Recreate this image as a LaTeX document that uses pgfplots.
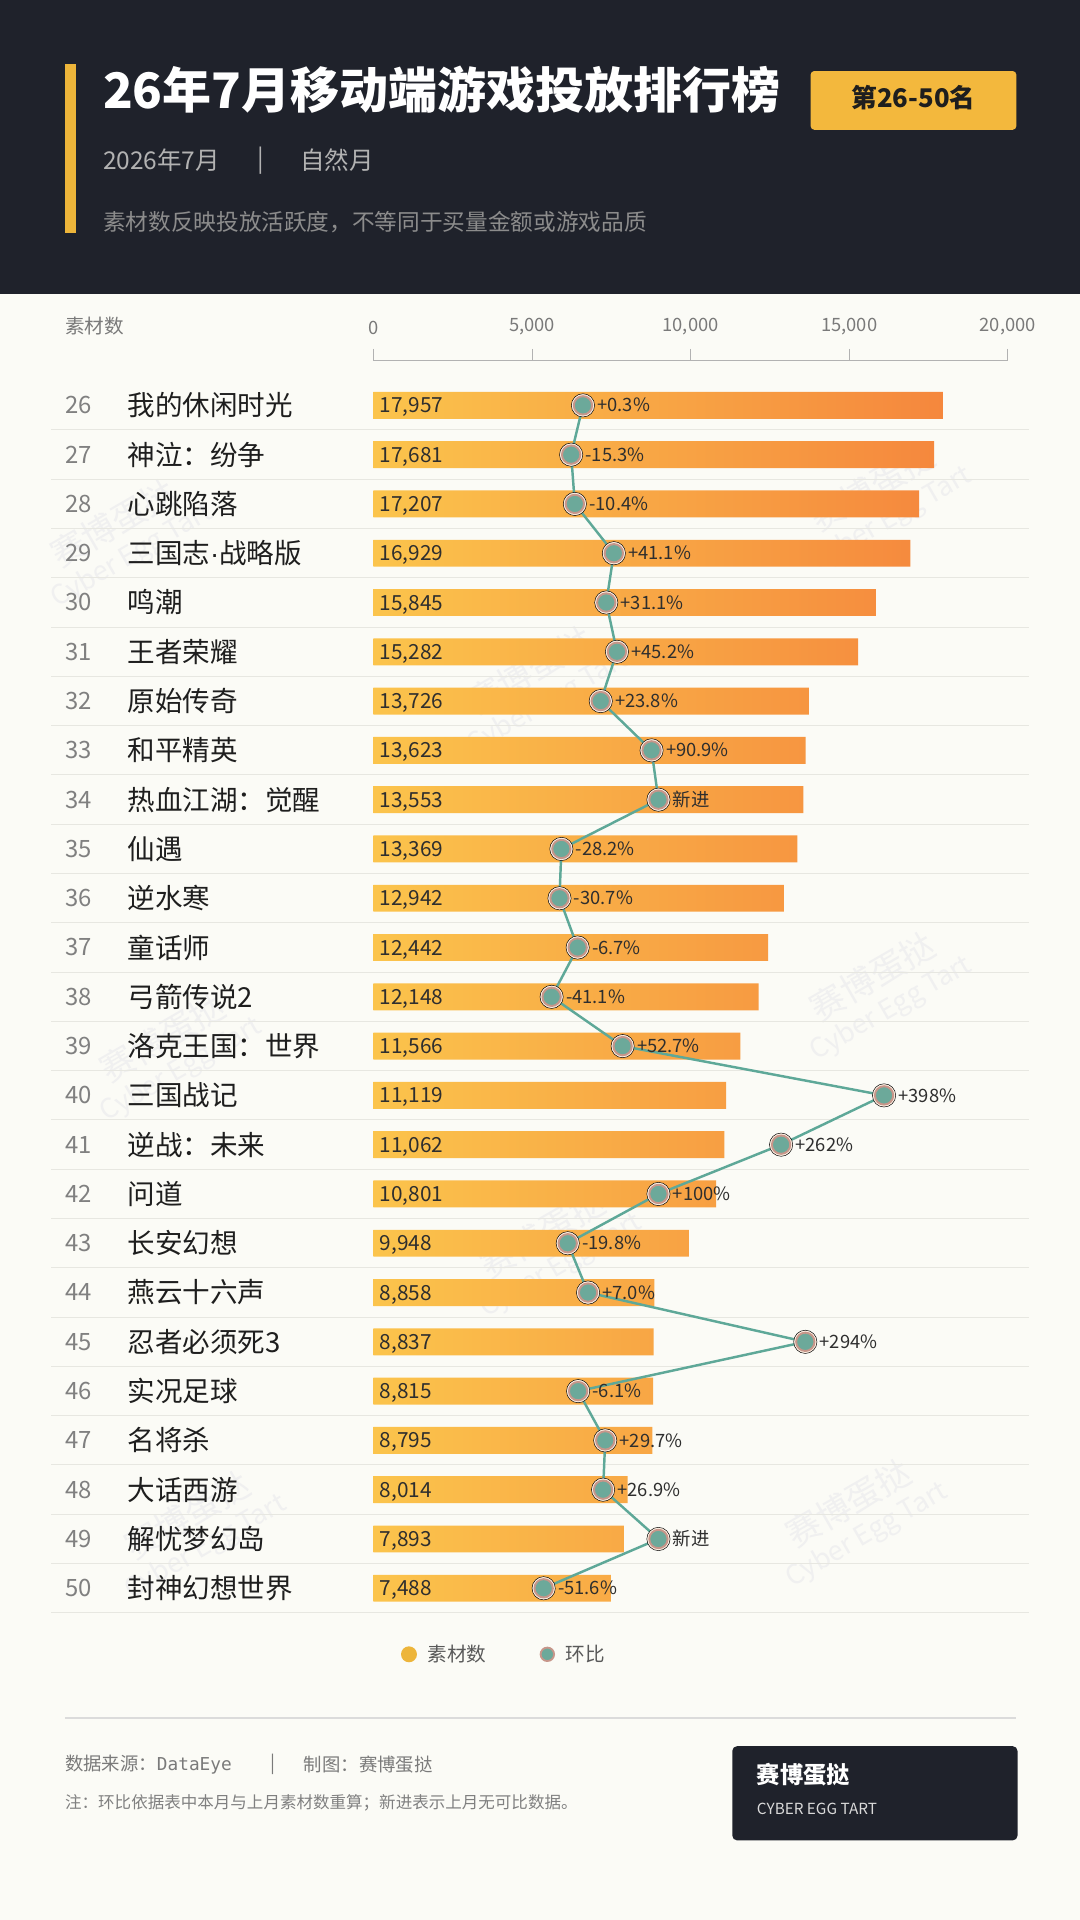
\documentclass[border=0pt]{standalone}
\usepackage{pgfplots}
\pgfplotsset{compat=1.18}
\usepackage{pgfplotstable}
\usepackage{fontspec}
\setmainfont{Noto Sans CJK SC}
\newfontfamily\monofont{DejaVu Sans Mono}
\newfontfamily\latin{Liberation Sans}

\definecolor{hdr}{HTML}{1F222B}
\definecolor{acc}{HTML}{EDB53A}
\definecolor{badge}{HTML}{F3B83D}
\definecolor{pagebg}{HTML}{FBFBF6}
\definecolor{barY}{HTML}{FBC44C}
\definecolor{barO}{HTML}{F5873D}
\definecolor{lineT}{HTML}{5EA898}
\definecolor{mkT}{HTML}{6CA99A}
\definecolor{mkR}{HTML}{C7968A}
\definecolor{sepc}{HTML}{E7E7E1}
\definecolor{txt}{HTML}{1E1E1E}
\definecolor{gry}{HTML}{7A7A7A}
\definecolor{lab}{HTML}{2E2E2E}

\newcommand{\fs}[1]{\fontsize{#1}{#1}\selectfont}

\pgfplotstableread{
idx val lab
0 17957 17,957
1 17681 17,681
2 17207 17,207
3 16929 16,929
4 15845 15,845
5 15282 15,282
6 13726 13,726
7 13623 13,623
8 13553 13,553
9 13369 13,369
10 12942 12,942
11 12442 12,442
12 12148 12,148
13 11566 11,566
14 11119 11,119
15 11062 11,062
16 10801 10,801
17 9948 9,948
18 8858 8,858
19 8837 8,837
20 8815 8,815
21 8795 8,795
22 8014 8,014
23 7893 7,893
24 7488 7,488
}\bars

\begin{document}
\begin{tikzpicture}[x=1pt,y=1pt]
% background
\fill[pagebg] (0,0) rectangle (882,-1568);
\path[use as bounding box] (0,0) rectangle (882,-1568);
% header
\fill[hdr] (0,0) rectangle (882,-240);
\fill[acc] (53,-52) rectangle (62,-190);
\node[anchor=west, text=white, font=\fs{40}\bfseries, inner sep=0pt] at (84,-73) {26年7月移动端游戏投放排行榜};
\fill[badge, rounded corners=3pt] (662,-58) rectangle (830,-106);
\node[text=txt, font=\fs{21}\bfseries] at (746,-80) {第26-50名};
\node[anchor=west, text=black!30, font=\fs{20}, inner sep=0pt] at (84,-131) {2026年7月};
\node[anchor=west, text=black!30, font=\fs{20}, inner sep=0pt] at (210,-131) {|};
\node[anchor=west, text=black!30, font=\fs{20}, inner sep=0pt] at (245,-131) {自然月};
\node[anchor=west, text=black!45, font=\fs{18.5}, inner sep=0pt] at (84,-181) {素材数反映投放活跃度，不等同于买量金额或游戏品质};

% watermarks
\foreach \wx/\wy in {100/-440, 440/-560, 720/-410, 140/-860, 720/-810, 450/-1020, 160/-1250, 700/-1240}{
  \node[rotate=30, text=black!6, align=center, font=\fs{28}] at (\wx,\wy) {赛博蛋挞\\[-2pt]{\fs{22}Cyber Egg Tart}};
}

% axis header label
\node[anchor=west, text=gry, font=\fs{16}, inner sep=0pt] at (53,-266) {素材数};

% row separators
\foreach \i in {0,...,24}{
  \draw[sepc, line width=0.9pt] (42,{-(351.1+40.25*\i)}) -- (840,{-(351.1+40.25*\i)});
}
% rank numbers and names
\foreach \n [count=\i from 0] in {我的休闲时光,神泣：纷争,心跳陷落,三国志{\latin ·}战略版,鸣潮,王者荣耀,原始传奇,和平精英,热血江湖：觉醒,仙遇,逆水寒,童话师,弓箭传说2,洛克王国：世界,三国战记,逆战：未来,问道,长安幻想,燕云十六声,忍者必须死3,实况足球,名将杀,大话西游,解忧梦幻岛,封神幻想世界}{
  \pgfmathtruncatemacro{\rk}{26+\i}
  \node[anchor=west, text=black!50, font=\fs{19.5}, inner sep=0pt] at (53,{-(331+40.25*\i)}) {\rk};
  \node[anchor=west, text=txt, font=\fs{22.5}, inner sep=0pt] at (104,{-(331+40.25*\i)}) {\n};
}

% bars axis
\begin{axis}[
  at={(305pt,-294pt)}, anchor=north west,
  scale only axis, width=518pt, height=1023.2pt,
  xmin=0, xmax=20000, ymin=-0.92, ymax=24.5, y dir=reverse,
  axis x line*=top, axis y line=none,
  xtick={0,5000,10000,15000,20000},
  scaled x ticks=false,
  tick align=outside, major tick length=9pt,
  x axis line style={color=black!30, line width=0.8pt},
  xtick style={color=black!30, line width=0.8pt},
  xticklabel style={text=gry, font=\fs{15}, yshift=8pt},
  /pgf/number format/.cd, 1000 sep={,}, assume math mode=true, /pgfplots/.cd,
  clip=false,
]
\addplot[xbar, bar width=22pt, bar shift=0pt, draw=none, left color=barY, right color=barO] table[x=val, y=idx]{\bars};
\addplot[draw=none, mark=none, point meta=explicit symbolic,
  nodes near coords={\pgfplotspointmeta},
  every node near coord/.append style={anchor=base west, xshift=3pt, yshift=-6.2pt, inner sep=2pt, text=lab, font=\fs{17}}]
  table[x expr=0, y=idx, meta=lab]{\bars};
\end{axis}

% change (ring-on-ring) line axis
\begin{axis}[
  at={(305pt,-294pt)}, anchor=north west,
  scale only axis, width=518pt, height=1023.2pt,
  xmin=-276.4, xmax=561.4, ymin=-0.92, ymax=24.5, y dir=reverse,
  hide axis, clip=false,
]
\addplot[only marks, mark=*, mark size=9.5pt, mark options={fill=white!90!orange, draw=none}] coordinates {
(0.3,0) (-15.3,1) (-10.4,2) (41.1,3) (31.1,4) (45.2,5) (23.8,6) (90.9,7) (100,8) (-28.2,9) (-30.7,10) (-6.7,11) (-41.1,12) (52.7,13) (398,14) (262,15) (100,16) (-19.8,17) (7.0,18) (294,19) (-6.1,20) (29.7,21) (26.9,22) (100,23) (-51.6,24)};
\addplot[lineT, line width=2pt, mark=*, mark size=7.5pt,
  mark options={fill=mkT, draw=mkR, line width=1.6pt},
  point meta=explicit symbolic,
  nodes near coords={\pgfplotspointmeta},
  every node near coord/.append style={anchor=base west, xshift=10pt, yshift=-5.4pt, text=lab, font=\fs{15}, inner sep=1pt}]
coordinates {
(0.3,0) [+0.3\%]
(-15.3,1) [-15.3\%]
(-10.4,2) [-10.4\%]
(41.1,3) [+41.1\%]
(31.1,4) [+31.1\%]
(45.2,5) [+45.2\%]
(23.8,6) [+23.8\%]
(90.9,7) [+90.9\%]
(100,8) [新进]
(-28.2,9) [-28.2\%]
(-30.7,10) [-30.7\%]
(-6.7,11) [-6.7\%]
(-41.1,12) [-41.1\%]
(52.7,13) [+52.7\%]
(398,14) [+398\%]
(262,15) [+262\%]
(100,16) [+100\%]
(-19.8,17) [-19.8\%]
(7.0,18) [+7.0\%]
(294,19) [+294\%]
(-6.1,20) [-6.1\%]
(29.7,21) [+29.7\%]
(26.9,22) [+26.9\%]
(100,23) [新进]
(-51.6,24) [-51.6\%]
};
\end{axis}

% legend
\fill[color=acc] (334,-1351) circle (6.5);
\node[anchor=west, text=black!65, font=\fs{16}, inner sep=0pt] at (349,-1351) {素材数};
\filldraw[fill=mkT, draw=mkR, line width=1.5pt] (447,-1351) circle (5.5);
\node[anchor=west, text=black!65, font=\fs{16}, inner sep=0pt] at (462,-1351) {环比};

% footer
\draw[color=black!14, line width=1.5pt] (53,-1403) -- (830,-1403);
\node[anchor=west, text=gry, font=\fs{15}, inner sep=0pt] at (53,-1441) {数据来源：{\monofont\fs{14.5}DataEye}};
\node[anchor=west, text=gry, font=\fs{15}, inner sep=0pt] at (221,-1441) {|};
\node[anchor=west, text=gry, font=\fs{15}, inner sep=0pt] at (248,-1441) {制图：赛博蛋挞};
\node[anchor=west, text=black!50, font=\fs{13.5}, inner sep=0pt] at (53,-1472) {注：环比依据表中本月与上月素材数重算；新进表示上月无可比数据。};
\fill[hdr, rounded corners=4pt] (598,-1426) rectangle (831,-1503);
\node[anchor=west, text=white, font=\fs{19}\bfseries, inner sep=0pt] at (618,-1449) {赛博蛋挞};
\node[anchor=west, text=black!15, font=\fs{12.5}, inner sep=0pt] at (618,-1477) {CYBER EGG TART};
\end{tikzpicture}
\end{document}
